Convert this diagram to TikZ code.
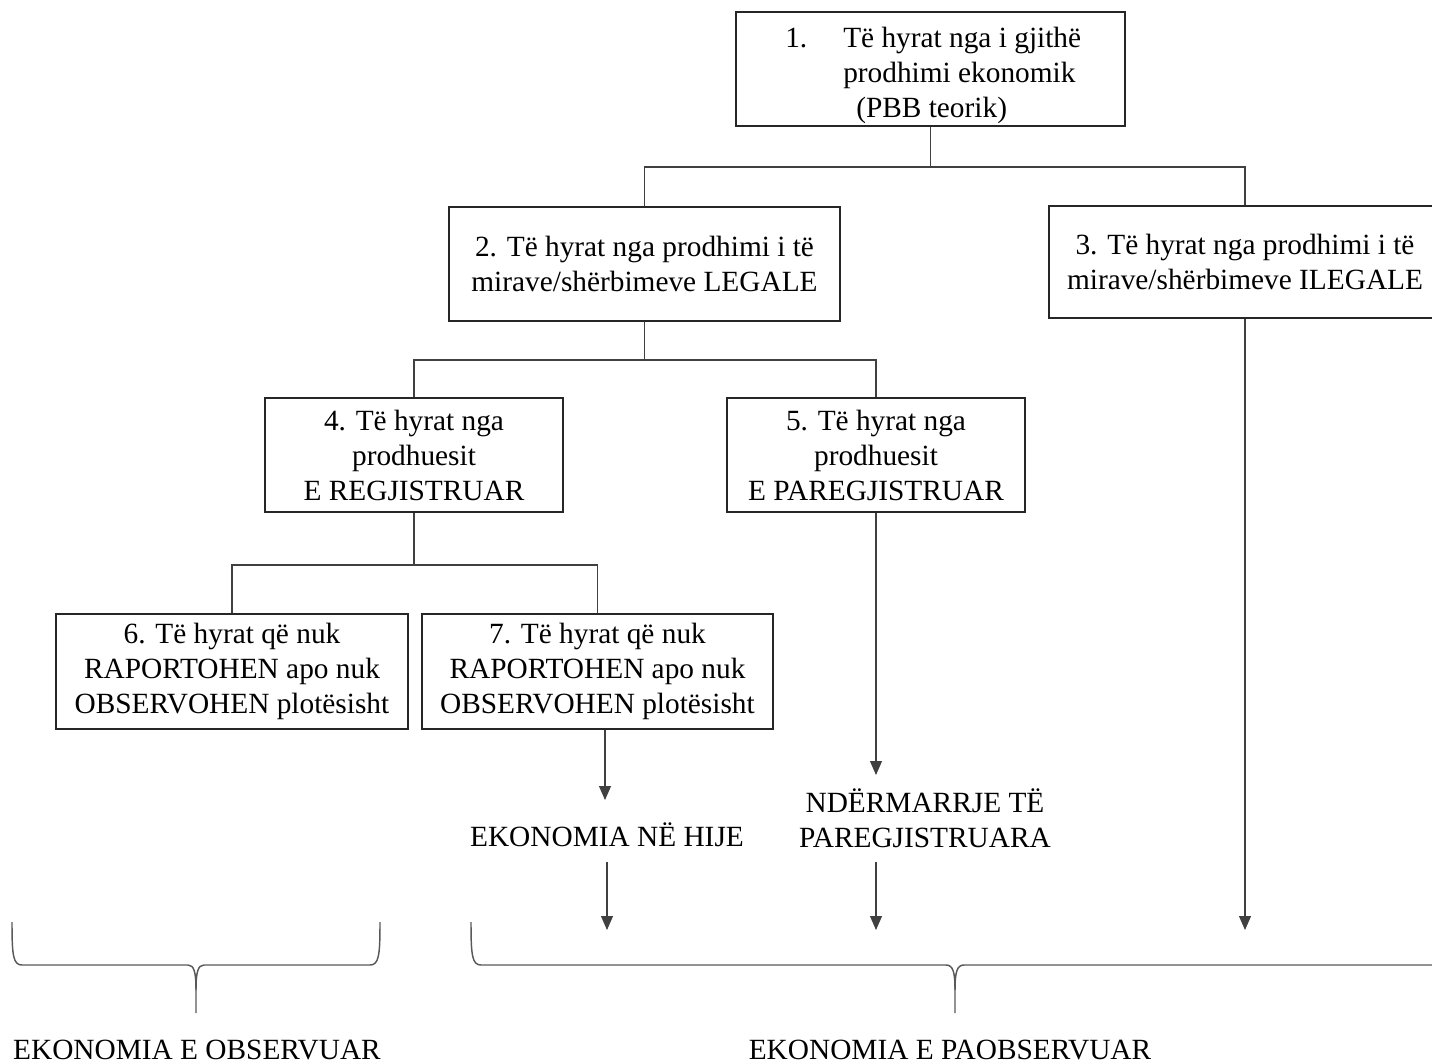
\documentclass[tikz,border=0pt]{standalone}
\usepackage{fontspec}
\setmainfont{Liberation Serif}
\usetikzlibrary{arrows.meta}
\begin{document}
\begin{tikzpicture}[x=0.75pt,y=-0.75pt,
  box/.style={draw=black!85, line width=1.5pt, inner sep=0pt, align=center, font=\fontsize{22}{26.25}\selectfont},
  txt/.style={inner sep=0pt, align=center, font=\fontsize{22}{26.25}\selectfont},
  conn/.style={draw=black!75, line width=0.8pt},
  arr/.style={conn, -{Triangle[width=9pt,length=10.5pt]}},
  brace/.style={draw=black!65, line width=1.1pt}]
\useasboundingbox (0,0) rectangle (1432,1064);

% boxes
\node[box, minimum width=291.75pt, minimum height=85.5pt] (b1) at (930.5,69) {};
\node[txt, align=left, anchor=west] (t1) at (785,75) {\makebox[43.5pt][l]{1.}Të hyrat nga i gjithë\\ \hspace*{43.5pt}prodhimi ekonomik\\ \hspace*{53.25pt}(PBB teorik)};
\node[box, minimum width=293.25pt, minimum height=85.5pt] (b2) at (644.5,264) {2. Të hyrat nga prodhimi i të\\mirave/shërbimeve LEGALE};
\node[box, minimum width=294pt, minimum height=84pt] (b3) at (1245,262) {3. Të hyrat nga prodhimi i të\\mirave/shërbimeve ILEGALE};
\node[box, minimum width=223.5pt, minimum height=85.5pt] (b4) at (414,455) {4. Të hyrat nga\\prodhuesit\\E REGJISTRUAR};
\node[box, minimum width=223.5pt, minimum height=85.5pt] (b5) at (876,455) {5. Të hyrat nga\\prodhuesit\\E PAREGJISTRUAR};
\node[box, minimum width=264pt, minimum height=86.25pt] (b6) at (232,671.5) {6. Të hyrat që nuk\\RAPORTOHEN apo nuk\\OBSERVOHEN plotësisht};
\node[box, minimum width=263.25pt, minimum height=86.25pt] (b7) at (597.5,671.5) {7. Të hyrat që nuk\\RAPORTOHEN apo nuk\\OBSERVOHEN plotësisht};

% tree connectors
\coordinate (j1) at (930.5,167);
\draw[conn] (b1.south) -- (j1);
\draw[conn] (b2.north) |- (j1) -| (b3.north);
\coordinate (j2l) at (414,360);
\coordinate (j2r) at (876,360);
\draw[conn] (b2.south) -- (b2.south |- j2l);
\draw[conn] (b4.north) -- (j2l) -- (j2r) -- (b5.north);
\coordinate (j3l) at (232,565);
\coordinate (j3r) at (597.5,565);
\draw[conn] (b4.south) -- (b4.south |- j3l);
\draw[conn] (b6.north) -- (j3l) -- (j3r) -- (b7.north);

% labels
\node[txt] (shadow) at (607,835) {EKONOMIA NË HIJE};
\node[txt] (unreg) at (925,818) {NDËRMARRJE TË\\PAREGJISTRUARA};
\node[txt] (obs) at (197,1050) {EKONOMIA E OBSERVUAR};
\node[txt] (nobs) at (950,1050) {EKONOMIA E PAOBSERVUAR};

% arrows
\coordinate (a7) at (605,800);
\draw[arr] (b7.south -| a7) -- (a7);
\coordinate (s7t) at (607,862);
\coordinate (s7) at (607,930);
\draw[arr] (s7t) -- (s7);
\coordinate (a5) at (876,775);
\draw[arr] (b5.south) -- (a5);
\coordinate (u5t) at (876,862);
\coordinate (u5) at (876,930);
\draw[arr] (u5t) -- (u5);
\coordinate (a3) at (1245,930);
\draw[arr] (b3.south) -- (a3);

% braces
\draw[brace] (12,922) .. controls (12,955) and (13,965) .. (22,965) -- (188,965)
  .. controls (194,965) and (196,972) .. (196,990) -- (196,1013);
\draw[brace] (196,990) .. controls (196,972) and (198,965) .. (204,965) -- (370,965)
  .. controls (379,965) and (380,955) .. (380,922);
\draw[brace] (471,922) .. controls (471,955) and (472,965) .. (481,965) -- (946,965)
  .. controls (953,965) and (955,972) .. (955,990) -- (955,1013);
\draw[brace] (955,990) .. controls (955,972) and (957,965) .. (964,965) -- (1440,965);
\end{tikzpicture}
\end{document}
